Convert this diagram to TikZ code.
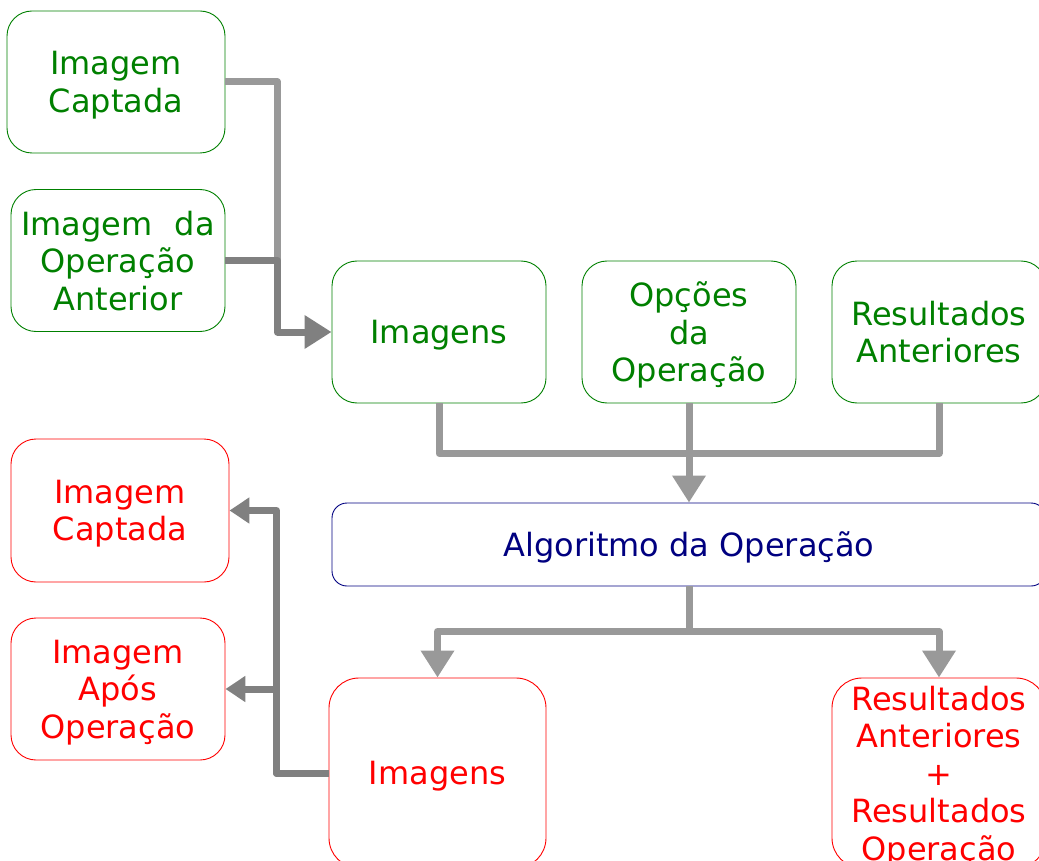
\documentclass[tikz,border=0pt]{standalone}
\usepackage{fontspec}
\setmainfont{DejaVu Sans}
\usepackage{tikz}
\usetikzlibrary{positioning,arrows.meta}

\definecolor{verde}{RGB}{0,128,0}
\definecolor{vermelho}{RGB}{255,0,0}
\definecolor{azul}{RGB}{0,0,128}
\definecolor{cinzaclaro}{RGB}{153,153,153}
\definecolor{cinzaescuro}{RGB}{128,128,128}

\tikzset{
    caixa/.style={rectangle, rounded corners=25pt, line width=0.9pt, fill=white,
                  align=center, inner sep=0pt, minimum width=214pt, minimum height=142pt,
                  font=\fontsize{32}{37.5}\selectfont, text depth=0pt},
    entrada/.style={caixa, draw=verde, text=verde},
    saida/.style={caixa, draw=vermelho, text=vermelho},
    fluxo/.style={line width=7pt, draw=cinzaclaro, line join=round},
    retorno/.style={line width=7pt, draw=cinzaescuro, line join=round},
    seta/.style={-{Triangle[length=27pt,width=32pt]}},
    setinha/.style={-{Triangle[length=20pt,width=25pt]}}
}

\begin{document}
\begin{tikzpicture}[x=1pt, y=-1pt]
    \useasboundingbox (0,0) rectangle (1039,861);

    % entradas
    \node[entrada, minimum width=218pt] (gcap) at (116,82) {Imagem\\Captada};
    \node[entrada] (gant) at (118,260.5) {Imagem\hspace{22pt}da\\Operação\\Anterior};
    \node[entrada] (gimg) at (439,332) {Imagens};
    \node[entrada] (gopc) at (689,332) {Opções\\da\\Operação};
    \node[entrada] (gres) at (939,332) {Resultados\\Anteriores};

    % algoritmo
    \node[caixa, rounded corners=15pt, draw=azul, text=azul, minimum width=714pt, minimum height=83pt] (alg) at (689,544.5) {Algoritmo da Operação};

    % saidas
    \node[saida, minimum width=218pt, minimum height=143pt] (rcap) at (120,510.5) {Imagem\\Captada};
    \node[saida] (rapo) at (118,689) {Imagem\\Após\\Operação};
    \node[saida, minimum width=217pt, minimum height=190pt, rounded corners=30pt] (rimg) at (437.5,773) {Imagens};
    \node[saida, minimum height=190pt, rounded corners=30pt] (rres) at (939,773) {Resultados\\Anteriores\\+\\Resultados\\Operação};

    % ligacoes
    \draw[fluxo] (gcap.east) -- ++(52,0) -- ++(0,179);
    \draw[retorno, seta] (gant.east) -- ++(52,0) |- (gimg.west);
    \draw[fluxo] (gimg.south) -- ++(0,50) -| (gres.south);
    \draw[fluxo, seta] (gopc.south) -- (alg.north);
    \draw[fluxo, seta] (alg.south) -- ++(0,45) -| (rimg.north);
    \draw[fluxo, seta] (alg.south) -- ++(0,45) -| (rres.north);
    \draw[retorno, setinha] (rimg.west) -- ++(-52,0) |- (rcap.east);
    \draw[retorno, setinha] (rimg.west) -- ++(-52,0) |- (rapo.east);
\end{tikzpicture}
\end{document}
